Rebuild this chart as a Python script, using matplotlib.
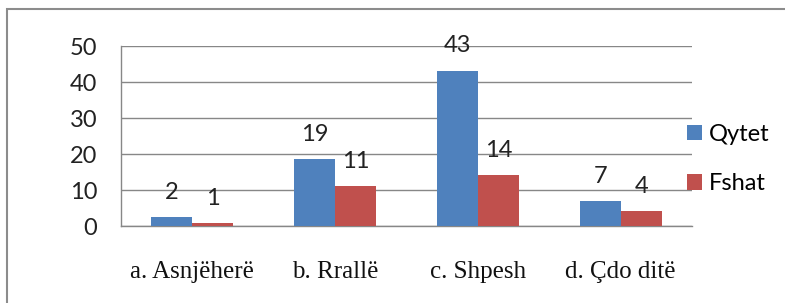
import numpy as np
import matplotlib.pyplot as plt
from matplotlib.patches import Rectangle

# Data
categories = ['a. Asnjëherë', 'b. Rrallë', 'c. Shpesh', 'd. Çdo ditë']
qytet = [2.5, 18.6, 43.1, 6.9]
fshat = [0.8, 11.1, 14.1, 4.1]
qytet_labels = ['2', '19', '43', '7']
fshat_labels = ['1', '11', '14', '4']
yticks = [0, 10, 20, 30, 40, 50]

blue = '#4F81BD'
red = '#C0504D'
grid_col = '#878787'


def main():
    fig = plt.figure(figsize=(7.85, 3.03), dpi=100)
    ax = fig.add_axes([0.154, 0.254, 0.7275, 0.594])

    x = np.arange(len(categories))
    w = 0.287
    b1 = ax.bar(x - w / 2, qytet, w, color=blue, label='Qytet', zorder=3)
    b2 = ax.bar(x + w / 2, fshat, w, color=red, label='Fshat', zorder=3)

    # value labels sit well above the bars, like the original
    for bars, labels in ((b1, qytet_labels), (b2, fshat_labels)):
        for rect, lab in zip(bars, labels):
            ax.annotate(lab, (rect.get_x() + rect.get_width() / 2, rect.get_height()),
                        xytext=(0, 18), textcoords='offset points',
                        ha='center', va='center', fontsize=17,
                        family='Lato', color='#222222', zorder=4)

    ax.set_xlim(-0.5, len(categories) - 0.5)
    ax.set_ylim(0, 50)
    ax.set_yticks(yticks)
    ax.yaxis.grid(True, color=grid_col, linewidth=1, zorder=0)
    ax.tick_params(axis='both', length=0)
    ax.tick_params(axis='y', pad=17)
    ax.tick_params(axis='x', pad=25)
    for lab in ax.get_yticklabels():
        lab.set_fontfamily('Lato')
        lab.set_fontsize(17)
        lab.set_color('#222222')
    ax.set_xticks(x)
    ax.set_xticklabels(categories, family='Liberation Serif', fontsize=18, color='#111111')

    for side in ('top', 'right'):
        ax.spines[side].set_visible(False)
    for side in ('left', 'bottom'):
        ax.spines[side].set_color(grid_col)
        ax.spines[side].set_linewidth(1)

    fig.legend(handles=[b1, b2], loc='center left',
               bbox_to_anchor=(0.848, 0.475), frameon=False,
               prop={'family': 'Lato', 'size': 17},
               handlelength=0.65, handleheight=0.65,
               handletextpad=0.3, labelspacing=1.2)

    # outer border of the chart
    fig.patches.append(Rectangle((7 / 785, -0.05), 1.05, 1 - 9 / 303 + 0.05,
                                 transform=fig.transFigure, fill=False,
                                 edgecolor='#8c8c8c', linewidth=1.5))

    fig.savefig('out.png', dpi=100)


if __name__ == "__main__":
    main()
